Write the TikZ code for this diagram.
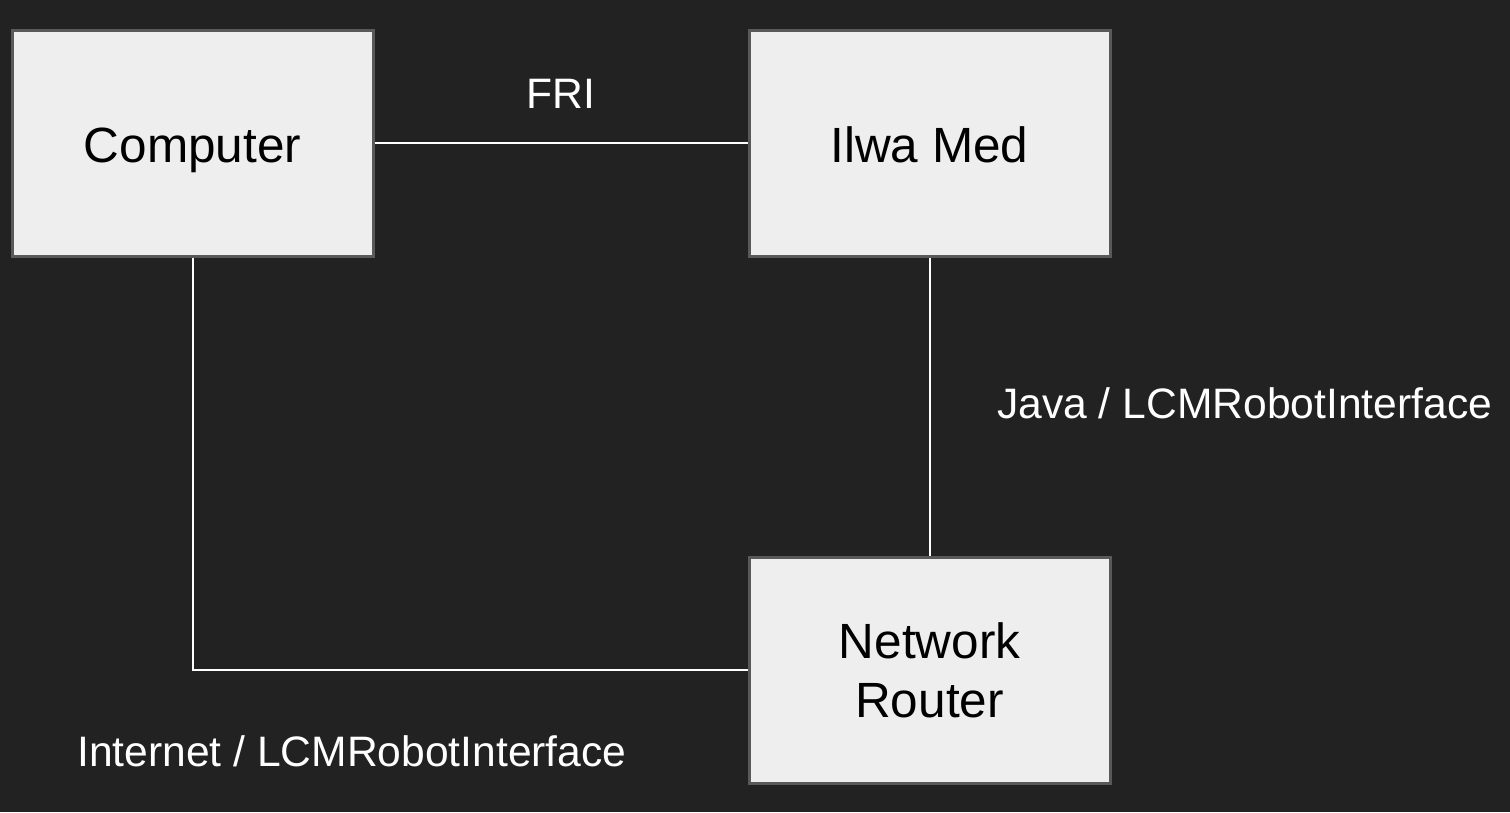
\documentclass[tikz,border=0pt]{standalone}
\usepackage{fontspec}
\setmainfont{Liberation Sans}
\definecolor{bgcol}{HTML}{222222}
\definecolor{boxfill}{HTML}{EEEEEE}
\definecolor{boxline}{HTML}{595959}
\begin{document}
\begin{tikzpicture}[x=1pt,y=-1pt,
  box/.style={draw=boxline,fill=boxfill,line width=3pt,minimum width=361pt,minimum height=226pt,inner sep=0pt,font=\fontsize{49.5}{59}\selectfont,text=black,align=center},
  lbl/.style={font=\fontsize{42.6}{48}\selectfont,text=white,inner sep=0pt},
  wire/.style={draw=white,line width=2pt}]
\useasboundingbox[fill=bgcol] (0,0) rectangle (1510,812);
\node[box,text height=38pt,text depth=0pt] (comp) at (192.5,143) {Computer};
\node[box,text height=38pt,text depth=0pt] (iiwa) at (929.5,143) {Ilwa Med};
\node[box] (router) at (929.5,670) {Network\\Router};
\coordinate (corner) at (192.5,670);
\draw[wire] (comp.east) -- (iiwa.west);
\draw[wire] (iiwa.south) -- (router.north);
\draw[wire] (comp.south) -- (corner) -- (router.west);
\node[lbl,anchor=base] (fri) at (561,108) {FRI};
\node[lbl,anchor=base west] (java) at (997,418) {Java / LCMRobotInterface};
\node[lbl,anchor=base west] (inet) at (77,766) {Internet / LCMRobotInterface};
\end{tikzpicture}
\end{document}
